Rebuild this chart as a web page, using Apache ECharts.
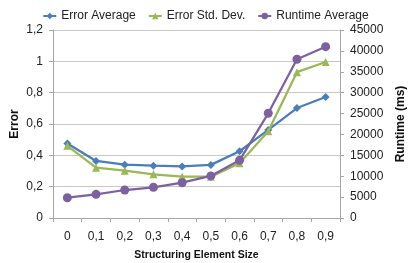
<!DOCTYPE html>
<html><head><meta charset="utf-8">
<script src="https://cdn.jsdelivr.net/npm/echarts@6/dist/echarts.min.js"></script>
<style>html,body{margin:0;padding:0;background:#fff}#c{width:411px;height:263px}</style>
</head><body><div id="c"></div>
<script>
const categories = ['0','0,1','0,2','0,3','0,4','0,5','0,6','0,7','0,8','0,9'];
const errorAverage = [0.476, 0.364, 0.340, 0.334, 0.329, 0.339, 0.426, 0.562, 0.702, 0.772];
const errorStdDev = [0.461, 0.321, 0.302, 0.279, 0.264, 0.264, 0.349, 0.553, 0.931, 0.996];
const runtimeAverage = [4860, 5670, 6700, 7350, 8450, 10080, 13800, 25060, 37990, 41010];
const leftTicks = {min: 0, max: 1.2, interval: 0.2};
const rightTicks = {min: 0, max: 45000, interval: 5000};

const font = 'Liberation Sans, Arial, sans-serif';
const chart = echarts.init(document.getElementById('c'), null, {renderer: 'canvas'});
chart.setOption({
  animation: false,
  textStyle: {fontFamily: font},
  legend: {
    top: 5, left: 'center', itemWidth: 13, itemHeight: 8, itemGap: 12,
    textStyle: {fontFamily: font, fontSize: 12, color: '#222'},
    data: ['Error Average', 'Error Std. Dev.', 'Runtime Average']
  },
  grid: {left: 53, right: 71, top: 30, bottom: 45, outerBoundsMode: 'none', containLabel: false},
  xAxis: {
    type: 'category', data: categories, boundaryGap: true,
    name: 'Structuring Element Size', nameLocation: 'middle', nameGap: 32,
    nameTextStyle: {fontFamily: font, fontWeight: 'bold', fontSize: 10.5, color: '#111'},
    axisLine: {lineStyle: {color: '#a6a6a6', width: 1}},
    axisTick: {show: true, length: 4, alignWithLabel: false, lineStyle: {color: '#a6a6a6'}},
    axisLabel: {margin: 13, fontSize: 12, color: '#222', fontFamily: font},
    splitLine: {show: false}
  },
  yAxis: [{
    type: 'value', min: leftTicks.min, max: leftTicks.max, interval: leftTicks.interval,
    name: 'Error', nameLocation: 'middle', nameGap: 32, nameRotate: 90, nameMoveOverlap: false,
    nameTextStyle: {fontFamily: font, fontWeight: 'bold', fontSize: 12, color: '#111'},
    axisLine: {show: true, lineStyle: {color: '#a6a6a6'}},
    axisTick: {show: true, length: 4, lineStyle: {color: '#a6a6a6'}},
    axisLabel: {margin: 10, fontSize: 12, color: '#222', fontFamily: font,
      formatter: v => String(Math.round(v * 10) / 10).replace('.', ',')},
    splitLine: {show: true, lineStyle: {color: '#c8c8c8', width: 1}}
  }, {
    type: 'value', position: 'right', min: rightTicks.min, max: rightTicks.max, interval: rightTicks.interval,
    name: 'Runtime (ms)', nameLocation: 'middle', nameGap: 53, nameRotate: 90,
    nameTextStyle: {fontFamily: font, fontWeight: 'bold', fontSize: 12, color: '#111'},
    axisLine: {show: true, lineStyle: {color: '#a6a6a6'}},
    axisTick: {show: true, length: 4, lineStyle: {color: '#a6a6a6'}},
    axisLabel: {margin: 10, fontSize: 12, color: '#222', fontFamily: font, formatter: v => String(v)},
    splitLine: {show: false}
  }],
  series: [{
    name: 'Error Average', type: 'line', yAxisIndex: 0, data: errorAverage,
    symbol: 'diamond', symbolSize: 8, z: 3,
    lineStyle: {color: '#4a7ebb', width: 2.25}, itemStyle: {color: '#4a7ebb'}
  }, {
    name: 'Error Std. Dev.', type: 'line', yAxisIndex: 0, data: errorStdDev,
    symbol: 'triangle', symbolSize: 8, z: 4,
    lineStyle: {color: '#98b954', width: 2.25}, itemStyle: {color: '#98b954'}
  }, {
    name: 'Runtime Average', type: 'line', yAxisIndex: 1, data: runtimeAverage,
    symbol: 'circle', symbolSize: 9, z: 5,
    lineStyle: {color: '#7d60a0', width: 2.25}, itemStyle: {color: '#7d60a0'}
  }]
});
</script></body></html>
